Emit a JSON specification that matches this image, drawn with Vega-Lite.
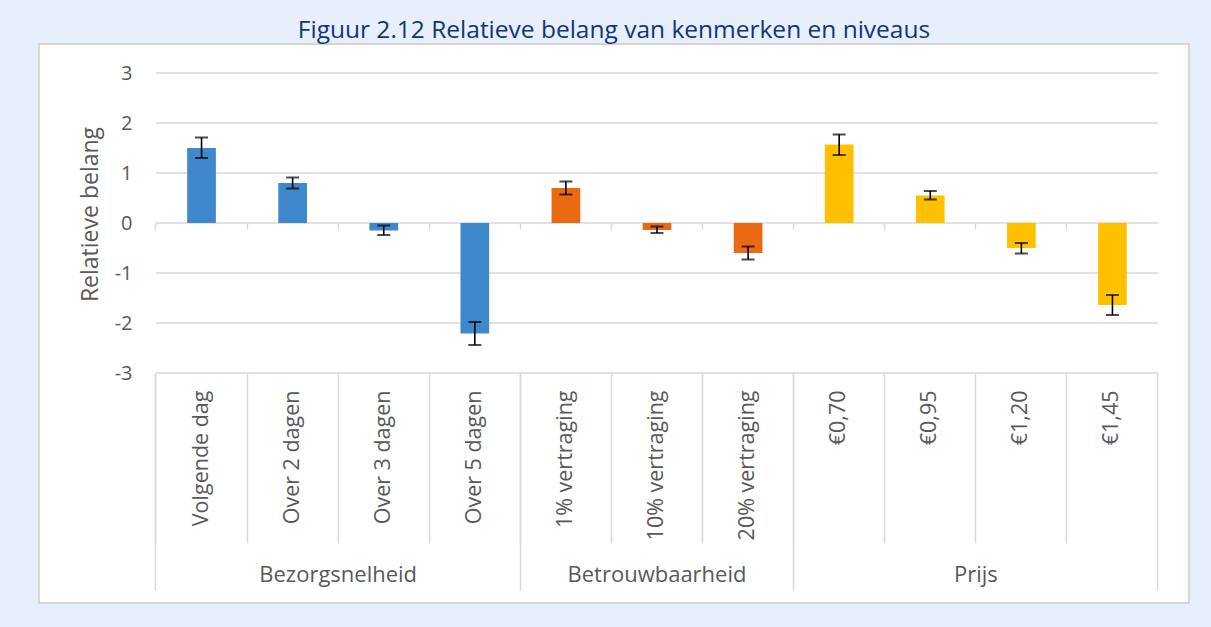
{
  "$schema": "https://vega.github.io/schema/vega-lite/v6.json",
  "width": 1150,
  "height": 559,
  "autosize": {"type": "none"},
  "padding": {"left": 39, "top": 44, "right": 22, "bottom": 24},
  "background": "#E8EFFC",
  "config": {
    "view": {"fill": "white", "stroke": "#D6D6D6", "strokeWidth": 2},
    "font": "Open Sans"
  },
  "title": {
    "text": "Figuur 2.12 Relatieve belang van kenmerken en niveaus",
    "font": "Open Sans",
    "fontSize": 24.5,
    "fontWeight": "normal",
    "color": "#12367A",
    "anchor": "middle",
    "frame": "group",
    "offset": 8,
    "dy": 26,
    "baseline": "alphabetic"
  },
  "datasets": {
    "levels": [
      {"level": "Volgende dag", "group": "Bezorgsnelheid", "value": 1.50, "lo": 1.30, "hi": 1.71},
      {"level": "Over 2 dagen", "group": "Bezorgsnelheid", "value": 0.80, "lo": 0.69, "hi": 0.91},
      {"level": "Over 3 dagen", "group": "Bezorgsnelheid", "value": -0.15, "lo": -0.24, "hi": -0.05},
      {"level": "Over 5 dagen", "group": "Bezorgsnelheid", "value": -2.21, "lo": -2.44, "hi": -1.98},
      {"level": "1% vertraging", "group": "Betrouwbaarheid", "value": 0.70, "lo": 0.57, "hi": 0.83},
      {"level": "10% vertraging", "group": "Betrouwbaarheid", "value": -0.14, "lo": -0.20, "hi": -0.07},
      {"level": "20% vertraging", "group": "Betrouwbaarheid", "value": -0.60, "lo": -0.73, "hi": -0.47},
      {"level": "€0,70", "group": "Prijs", "value": 1.57, "lo": 1.36, "hi": 1.77},
      {"level": "€0,95", "group": "Prijs", "value": 0.55, "lo": 0.47, "hi": 0.64},
      {"level": "€1,20", "group": "Prijs", "value": -0.50, "lo": -0.61, "hi": -0.40},
      {"level": "€1,45", "group": "Prijs", "value": -1.64, "lo": -1.84, "hi": -1.44}
    ],
    "gridticks": [
      {"tick": -3}, {"tick": -2}, {"tick": -1}, {"tick": 0}, {"tick": 1}, {"tick": 2}, {"tick": 3}
    ]
  },
  "resolve": {"axis": {"x": "independent", "y": "independent"}},
  "layer": [
    {
      "data": {"name": "gridticks"},
      "mark": {"type": "rule", "color": "#D9D9D9", "strokeWidth": 1.5},
      "encoding": {
        "x": {
          "datum": "Volgende dag",
          "type": "nominal",
          "bandPosition": 0,
          "scale": {
            "domain": ["Volgende dag", "Over 2 dagen", "Over 3 dagen", "Over 5 dagen", "1% vertraging", "10% vertraging", "20% vertraging", "€0,70", "€0,95", "€1,20", "€1,45"],
            "paddingInner": 0,
            "paddingOuter": 0.8124,
            "align": 0.7905
          },
          "axis": {
            "orient": "bottom", "offset": -230, "bandPosition": 0,
            "labels": false, "domain": false, "grid": false, "title": null,
            "ticks": true, "tickSize": 170, "tickColor": "#D9D9D9", "tickWidth": 1.5
          }
        },
        "x2": {"datum": "€1,45", "bandPosition": 1},
        "y": {
          "field": "tick",
          "type": "quantitative",
          "scale": {"domain": [-7.6, 3.58], "nice": false, "zero": false},
          "axis": {
            "orient": "left", "offset": -117,
            "values": [-3, -2, -1, 0, 1, 2, 3],
            "labelExpr": "'' + datum.value",
            "ticks": false, "domain": false, "grid": false,
            "labelPadding": 24, "labelFontSize": 20, "labelColor": "#595959", "labelFont": "Open Sans",
            "title": "Relatieve belang",
            "titleFont": "Open Sans", "titleFontSize": 23, "titleFontWeight": "normal", "titleColor": "#595959",
            "titleX": -66, "titleY": 170, "titleAngle": -90, "titleAlign": "center", "titleBaseline": "middle"
          }
        }
      }
    },
    {
      "data": {"name": "levels"},
      "mark": {"type": "bar", "width": {"band": 0.315}},
      "encoding": {
        "x": {
          "field": "level", "type": "nominal",
          "axis": {
            "orient": "bottom", "offset": -230, "bandPosition": 0.5,
            "ticks": false, "domain": false, "grid": false, "title": null,
            "labelAngle": -90, "labelPadding": 17, "labelFontSize": 21.5, "labelColor": "#595959",
            "labelFont": "Open Sans", "labelLimit": 400
          }
        },
        "y": {"field": "value", "type": "quantitative", "axis": null},
        "color": {
          "field": "group", "type": "nominal",
          "scale": {"domain": ["Bezorgsnelheid", "Betrouwbaarheid", "Prijs"], "range": ["#3F88CC", "#EA6A14", "#FFC000"]},
          "legend": null
        }
      }
    },
    {
      "data": {"name": "levels"},
      "mark": {"type": "rule", "color": "black", "strokeWidth": 1.6},
      "encoding": {
        "x": {
          "field": "level", "type": "nominal",
          "axis": {
            "orient": "bottom", "offset": -230, "bandPosition": 0,
            "values": ["Volgende dag", "1% vertraging", "€0,70"],
            "labels": false, "domain": false, "grid": false, "title": null,
            "ticks": true, "tickSize": 217, "tickColor": "#D9D9D9", "tickWidth": 1.5
          }
        },
        "y": {"field": "lo", "type": "quantitative", "axis": null},
        "y2": {"field": "hi"}
      }
    },
    {
      "data": {"name": "levels"},
      "mark": {"type": "tick", "color": "black", "size": 13, "thickness": 2},
      "encoding": {
        "x": {
          "field": "level", "type": "nominal",
          "axis": {
            "orient": "bottom", "offset": -230, "bandPosition": 1,
            "values": ["€1,45"],
            "labels": false, "domain": false, "grid": false, "title": null,
            "ticks": true, "tickSize": 217, "tickColor": "#D9D9D9", "tickWidth": 1.5
          }
        },
        "y": {"field": "lo", "type": "quantitative", "axis": null}
      }
    },
    {
      "data": {"name": "levels"},
      "mark": {"type": "tick", "color": "black", "size": 13, "thickness": 2},
      "encoding": {
        "x": {
          "field": "level", "type": "nominal",
          "axis": {
            "orient": "bottom", "offset": -380, "bandPosition": 0,
            "labels": false, "domain": false, "grid": false, "title": null,
            "ticks": true, "tickSize": 6, "tickColor": "#D9D9D9", "tickWidth": 1.5
          }
        },
        "y": {"field": "hi", "type": "quantitative", "axis": null}
      }
    },
    {
      "data": {"name": "levels"},
      "transform": [{"filter": "datum.level === 'Over 3 dagen' || datum.level === '€1,20'"}],
      "mark": {"type": "text", "fontSize": 22, "color": "#595959", "font": "Open Sans", "baseline": "middle", "align": "center"},
      "encoding": {
        "x": {"field": "level", "type": "nominal", "bandPosition": 0, "axis": null},
        "y": {"datum": -7.04, "type": "quantitative", "axis": null},
        "text": {"field": "group"}
      }
    },
    {
      "data": {"name": "levels"},
      "transform": [{"filter": "datum.level === '10% vertraging'"}],
      "mark": {"type": "text", "fontSize": 22, "color": "#595959", "font": "Open Sans", "baseline": "middle", "align": "center"},
      "encoding": {
        "x": {"field": "level", "type": "nominal", "bandPosition": 0.5, "axis": null},
        "y": {"datum": -7.04, "type": "quantitative", "axis": null},
        "text": {"field": "group"}
      }
    }
  ]
}
